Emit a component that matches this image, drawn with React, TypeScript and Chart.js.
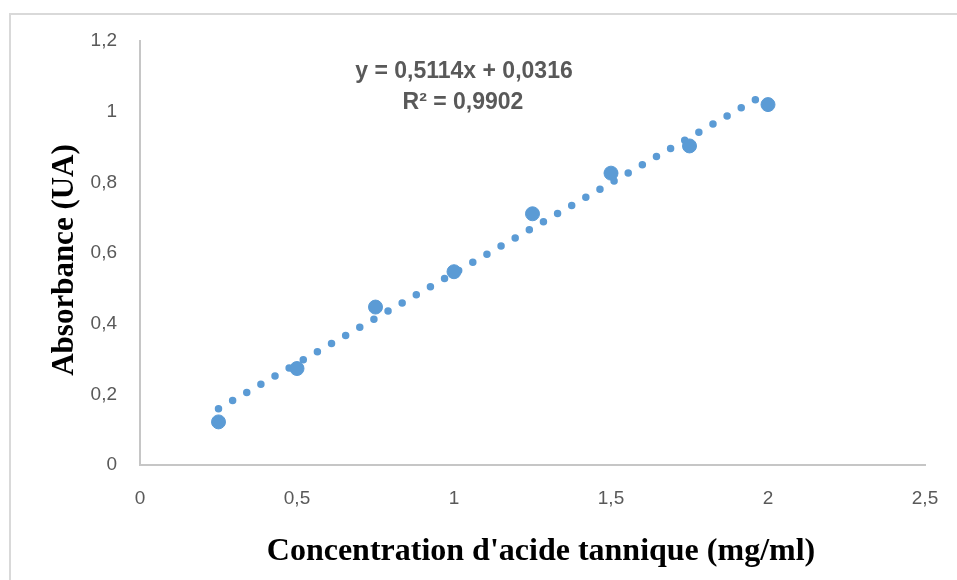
import React, { useEffect, useRef } from "react";
import { Chart, registerables } from "chart.js";

Chart.register(...registerables);

const concentrations = [0.25, 0.5, 0.75, 1, 1.25, 1.5, 1.75, 2];
const absorbances = [0.122, 0.273, 0.447, 0.547, 0.711, 0.826, 0.903, 1.02];
const trendX = [0.25, 2];
const trendY = [0.1595, 1.0544];
const equationLines = ["y = 0,5114x + 0,0316", "R² = 0,9902"];
const xTitle = "Concentration d'acide tannique (mg/ml)";
const yTitle = "Absorbance (UA)";

const fmt = (v: number) => String(Math.round(v * 10) / 10).replace(".", ",");

const textPlugin = {
  id: "textPlugin",
  afterDraw(chart: any) {
    const ctx = chart.ctx;
    ctx.save();
    ctx.fillStyle = "#000";
    ctx.font = "bold 32px 'Liberation Serif', 'Times New Roman', serif";
    ctx.textAlign = "center";
    ctx.textBaseline = "alphabetic";
    ctx.fillText(xTitle, 541, 560);
    ctx.save();
    ctx.translate(73, 260);
    ctx.rotate(-Math.PI / 2);
    ctx.font = "bold 31px 'Liberation Serif', 'Times New Roman', serif";
    ctx.fillText(yTitle, 0, 0);
    ctx.restore();
    ctx.fillStyle = "#595959";
    ctx.font = "bold 23px 'Liberation Sans', Arial, sans-serif";
    ctx.textBaseline = "middle";
    ctx.fillText(equationLines[0], 464, 72);
    ctx.fillText(equationLines[1], 463, 103);
    ctx.restore();
  },
};

export default function App() {
  const ref = useRef<HTMLCanvasElement | null>(null);
  useEffect(() => {
    if (!ref.current) return;
    const chart = new Chart(ref.current, {
      type: "scatter",
      data: {
        datasets: [
          {
            type: "scatter",
            label: "data",
            data: concentrations.map((x, i) => ({ x, y: absorbances[i] })),
            backgroundColor: "#5b9bd5",
            borderColor: "#5b9bd5",
            pointRadius: 7,
            pointHoverRadius: 7,
            order: 0,
          },
          {
            type: "line",
            label: "trend",
            data: trendX.map((x, i) => ({ x, y: trendY[i] })),
            borderColor: "#5b9bd5",
            borderWidth: 7.5,
            borderDash: [0, 16.3],
            borderCapStyle: "round",
            pointRadius: 0,
            fill: false,
            order: 1,
          } as any,
        ],
      },
      options: {
        responsive: false,
        devicePixelRatio: 1,
        animation: false,
        layout: { padding: { top: 41, right: 32, left: 0, bottom: 0 } },
        plugins: { legend: { display: false }, tooltip: { enabled: false } },
        scales: {
          x: {
            type: "linear",
            min: 0,
            max: 2.5,
            ticks: {
              stepSize: 0.5,
              callback: (v: any) => fmt(Number(v)),
              color: "#595959",
              font: { family: "'Liberation Sans', Arial, sans-serif", size: 19 },
              padding: 22,
              maxRotation: 0,
            },
            grid: { display: false, drawTicks: false },
            border: { display: true, color: "#c6c6c6", width: 2 },
            afterFit: (s: any) => {
              s.height = 115;
              s.paddingLeft = 0;
              s.paddingRight = 0;
            },
          },
          y: {
            type: "linear",
            min: 0,
            max: 1.2,
            ticks: {
              stepSize: 0.2,
              callback: (v: any) => fmt(Number(v)),
              color: "#595959",
              font: { family: "'Liberation Sans', Arial, sans-serif", size: 19 },
              padding: 23,
            },
            grid: { display: false, drawTicks: false },
            border: { display: true, color: "#c6c6c6", width: 2 },
            afterFit: (s: any) => {
              s.width = 140;
              s.paddingTop = 0;
              s.paddingBottom = 0;
            },
          },
        },
      },
      plugins: [textPlugin],
    });
    return () => chart.destroy();
  }, []);

  return (
    <div style={{ position: "absolute", left: 0, top: 0, width: 957, height: 580, background: "#fff", overflow: "hidden" }}>
      <div
        style={{
          position: "absolute",
          left: 9,
          top: 13,
          width: 957,
          height: 580,
          borderTop: "2px solid #d9d9d9",
          borderLeft: "2px solid #d9d9d9",
        }}
      />
      <canvas ref={ref} width={957} height={580} style={{ position: "absolute", left: 0, top: 0 }} />
    </div>
  );
}
